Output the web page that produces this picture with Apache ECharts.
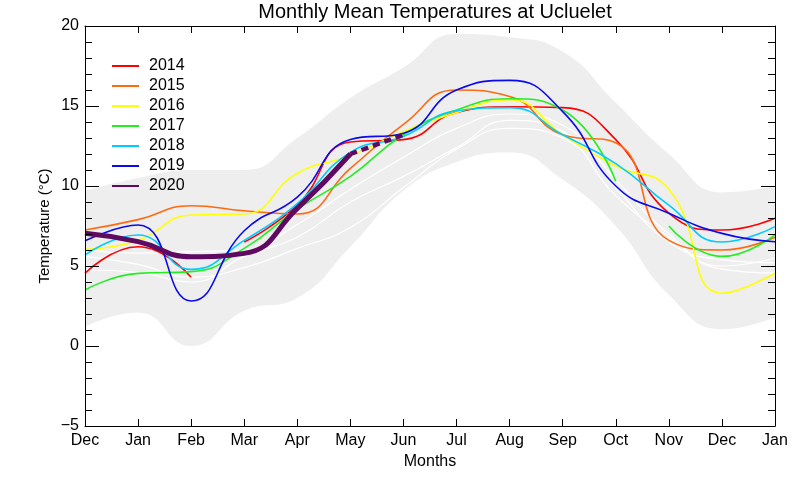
<!DOCTYPE html>
<html>
<head>
<meta charset="utf-8">
<script src="https://cdn.jsdelivr.net/npm/echarts@6/dist/echarts.min.js"></script>
<style>
html,body{margin:0;padding:0;background:#fff;}
#c{width:800px;height:480px;}
</style>
</head>
<body>
<div id="c"></div>
<script>
// ---- data ----
const months = ['Dec','Jan','Feb','Mar','Apr','May','Jun','Jul','Aug','Sep','Oct','Nov','Dec','Jan'];
const years = ['2014','2015','2016','2017','2018','2019','2020'];
const yTicks = [-5, 0, 5, 10, 15, 20];

const bandUpper = [9.7, 10.5, 11.0, 11.0, 13.0, 15.5, 17.4, 19.5, 19.3, 18.4, 15.2, 12.0, 9.6, 10.0];
const bandLower = [1.2, 2.1, 0.0, 2.2, 3.0, 6.2, 9.7, 11.5, 12.1, 10.4, 7.5, 3.2, 1.05, 1.8];

const white1 = [5.6, 5.1, 4.3, 4.9, 6.1, 7.4, 9.9, 12.3, 13.6, 13.0, 9.4, 6.8, 4.8, 4.55];
const white2 = [4.75, 4.6, 4.0, 5.6, 6.8, 9.0, 10.6, 12.4, 14.1, 13.4, 9.9, 6.5, 5.4, 5.2];
const white3 = [6.0, 5.8, 5.9, 6.0, 7.6, 9.8, 11.8, 13.6, 14.5, 13.8, 10.4, 7.0, 5.0, 5.5];

const t2014 = [4.55, 6.2, 4.3, 6.5, 8.8, 12.75, 12.9, 14.6, 14.95, 14.9, 12.9, 8.3, 7.25, 7.98];
const t2015 = [7.25, 7.9, 8.77, 8.45, 8.25, 11.1, 13.85, 16.0, 15.6, 13.2, 12.7, 6.6, 6.0, 6.8];
const t2016 = [6.04, 6.6, 8.19, 8.25, 10.8, 11.9, 13.4, 14.6, 15.4, 13.2, 11.25, 9.8, 3.3, 4.55];
const t2017 = [3.5, 4.54, 4.65, 6.1, 8.55, 10.6, 13.2, 14.75, 15.45, 14.75, 10.3, 7.5, 5.6, 6.94];
const t2018 = [5.69, 6.94, 4.79, 6.6, 8.9, 12.1, 13.1, 14.7, 14.9, 13.2, 11.4, 8.8, 6.5, 7.46];
const t2019 = [6.58, 7.56, 2.81, 7.2, 9.3, 12.9, 13.3, 16.0, 16.6, 14.65, 10.0, 8.3, 7.04, 6.52];
const t2020 = [7.04, 6.52, 5.58, 5.79, 8.6, 12.0, null, null, null, null, null, null, null, null];
const t2020partial = [null, null, null, null, null, 12.0, 13.2, null, null, null, null, null, null, null];

const breaks2014 = [2];   // gap after Feb
const breaks2017 = [10];  // gap after Oct

const yearColors = ['#ff0000', '#ff6a10', '#ffff00', '#22ee22', '#00ccff', '#0a0aee', '#5e0a60'];

// ---- build ----
function pairs(vals, breaks) {
  const out = [];
  vals.forEach((v, i) => {
    if (v === null) { out.push([i, '-']); return; }
    out.push([i, v]);
    if (breaks && breaks.indexOf(i) >= 0) out.push([i + 0.5, '-']);
  });
  return out;
}

const FONT = 'Liberation Sans, Arial, Helvetica, sans-serif';
const yearData = [t2014, t2015, t2016, t2017, t2018, t2019, t2020];
const yearBreaks = [breaks2014, null, null, breaks2017, null, null, null];

const series = [];
series.push({
  name: 'bandHigh', type: 'line', smooth: true, symbol: 'none', silent: true,
  data: pairs(bandUpper), lineStyle: { width: 0, opacity: 0 },
  areaStyle: { color: '#eeeeee', opacity: 1, origin: 'start' }, z: 1
});
series.push({
  name: 'bandLow', type: 'line', smooth: true, symbol: 'none', silent: true,
  data: pairs(bandLower), lineStyle: { width: 0, opacity: 0 },
  areaStyle: { color: '#ffffff', opacity: 1, origin: 'start' }, z: 1
});
[white1, white2, white3].forEach((w, k) => {
  series.push({
    name: 'w' + k, type: 'line', smooth: true, symbol: 'none', silent: true,
    data: pairs(w), lineStyle: { color: '#ffffff', width: 1.2 }, z: 2
  });
});
years.forEach((y, k) => {
  const is2020 = (y === '2020');
  series.push({
    name: y, type: 'line', smooth: true, symbol: 'none', connectNulls: false,
    data: pairs(yearData[k], yearBreaks[k]),
    lineStyle: { color: yearColors[k], width: is2020 ? 5 : 1.6 },
    itemStyle: { color: yearColors[k] },
    z: 3 + k
  });
});
series.push({
  name: '2020p', type: 'line', smooth: true, symbol: 'none',
  data: pairs(t2020partial),
  lineStyle: { color: yearColors[6], width: 4.5, type: [7, 5] },
  z: 10
});

const chart = echarts.init(document.getElementById('c'), null, { renderer: 'canvas' });
const axisLineStyle = { color: '#000', width: 1 };
chart.setOption({
  animation: false,
  backgroundColor: '#ffffff',
  textStyle: { fontFamily: FONT },
  title: {
    text: 'Monthly Mean Temperatures at Ucluelet',
    left: 430, top: -3, textAlign: 'center',
    textStyle: { fontSize: 20, fontWeight: 'normal', color: '#000', fontFamily: FONT }
  },
  legend: {
    data: years,
    orient: 'vertical', left: 106, top: 53,
    itemWidth: 27, itemHeight: 14, itemGap: 4,
    itemStyle: { opacity: 0 },
    textStyle: { fontSize: 16, color: '#000', fontFamily: FONT, lineHeight: 16, padding: [0, 0, 0, 5] },
    selectedMode: false
  },
  grid: { left: 85, right: 25, top: 26, bottom: 54, show: false },
  xAxis: [{
    type: 'value', min: 0, max: 13, interval: 1, position: 'bottom', z: 20,
    axisLine: { onZero: false, lineStyle: axisLineStyle },
    axisTick: { inside: true, length: 7, lineStyle: axisLineStyle },
    axisLabel: { formatter: v => months[v], color: '#000', fontSize: 16, margin: 7, fontFamily: FONT },
    splitLine: { show: false },
    name: 'Months', nameLocation: 'middle', nameGap: 25,
    nameTextStyle: { fontSize: 16, color: '#000', fontFamily: FONT }
  }, {
    type: 'value', min: 0, max: 13, interval: 1, position: 'top', z: 20,
    axisLine: { onZero: false, lineStyle: axisLineStyle },
    axisTick: { inside: true, length: 7, lineStyle: axisLineStyle },
    axisLabel: { show: false }, splitLine: { show: false }
  }],
  yAxis: [{
    type: 'value', min: yTicks[0], max: yTicks[yTicks.length - 1], interval: 5, position: 'left', z: 20,
    axisLine: { onZero: false, lineStyle: axisLineStyle },
    axisTick: { inside: true, length: 14, lineStyle: axisLineStyle },
    minorTick: { show: true, splitNumber: 5, length: 7, lineStyle: axisLineStyle },
    axisLabel: { formatter: v => (v < 0 ? '\u2212' + Math.abs(v) : String(v)), color: '#000', fontSize: 16, margin: 6, fontFamily: FONT },
    splitLine: { show: false },
    name: 'Temperature (\u00B0C)', nameLocation: 'middle', nameGap: 33, nameRotate: 90,
    nameMoveOverlap: false,
    nameTextStyle: { fontSize: 15, color: '#000', fontFamily: FONT }
  }, {
    type: 'value', min: yTicks[0], max: yTicks[yTicks.length - 1], interval: 5, position: 'right', z: 20,
    axisLine: { onZero: false, lineStyle: axisLineStyle },
    axisTick: { inside: true, length: 14, lineStyle: axisLineStyle },
    minorTick: { show: true, splitNumber: 5, length: 7, lineStyle: axisLineStyle },
    axisLabel: { show: false }, splitLine: { show: false }
  }],
  series: series
});
</script>
</body>
</html>
